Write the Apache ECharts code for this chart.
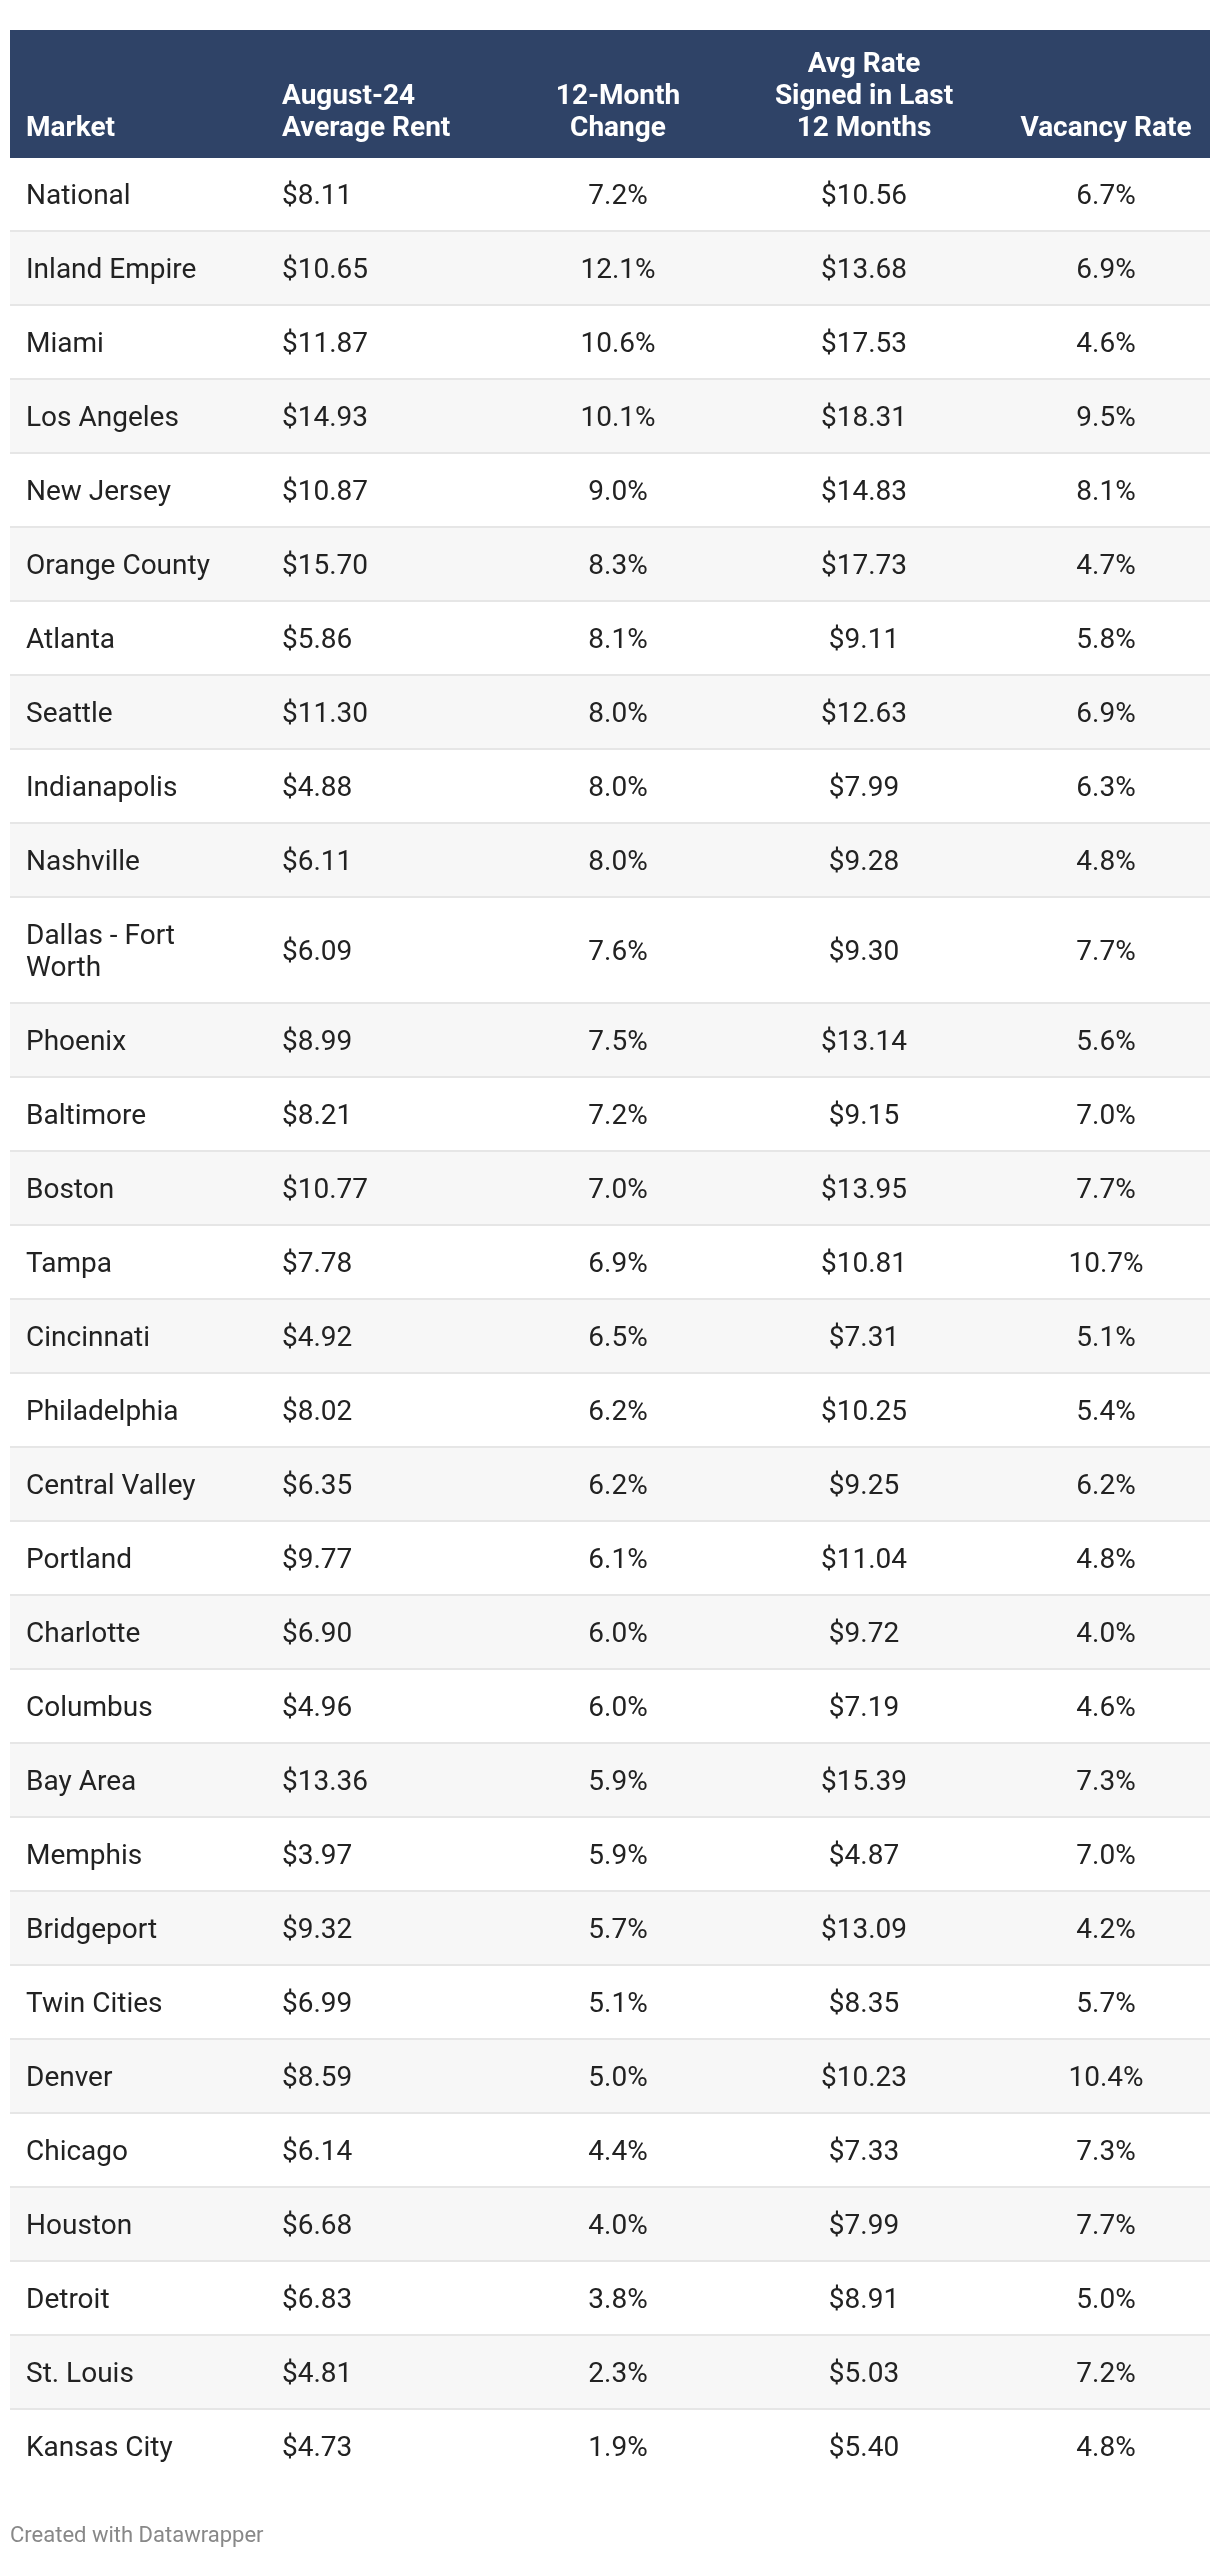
<!DOCTYPE html>
<html>
<head>
<meta charset="utf-8">
<script src="https://cdn.jsdelivr.net/npm/echarts@6/dist/echarts.min.js"></script>
<style>
  html, body { margin: 0; padding: 0; background: #ffffff; }
  #chart { width: 1220px; height: 2558px; }
</style>
</head>
<body>
<div id="chart"></div>
<script>
// ---- Data ----
const markets = ['National', 'Inland Empire', 'Miami', 'Los Angeles', 'New Jersey', 'Orange County',
  'Atlanta', 'Seattle', 'Indianapolis', 'Nashville', 'Dallas - Fort Worth', 'Phoenix', 'Baltimore',
  'Boston', 'Tampa', 'Cincinnati', 'Philadelphia', 'Central Valley', 'Portland', 'Charlotte',
  'Columbus', 'Bay Area', 'Memphis', 'Bridgeport', 'Twin Cities', 'Denver', 'Chicago', 'Houston',
  'Detroit', 'St. Louis', 'Kansas City'];
const avgRent = [8.11, 10.65, 11.87, 14.93, 10.87, 15.70, 5.86, 11.30, 4.88, 6.11, 6.09, 8.99, 8.21,
  10.77, 7.78, 4.92, 8.02, 6.35, 9.77, 6.90, 4.96, 13.36, 3.97, 9.32, 6.99, 8.59, 6.14, 6.68,
  6.83, 4.81, 4.73];
const change12 = [7.2, 12.1, 10.6, 10.1, 9.0, 8.3, 8.1, 8.0, 8.0, 8.0, 7.6, 7.5, 7.2, 7.0, 6.9, 6.5,
  6.2, 6.2, 6.1, 6.0, 6.0, 5.9, 5.9, 5.7, 5.1, 5.0, 4.4, 4.0, 3.8, 2.3, 1.9];
const signedRate = [10.56, 13.68, 17.53, 18.31, 14.83, 17.73, 9.11, 12.63, 7.99, 9.28, 9.30, 13.14,
  9.15, 13.95, 10.81, 7.31, 10.25, 9.25, 11.04, 9.72, 7.19, 15.39, 4.87, 13.09, 8.35, 10.23, 7.33,
  7.99, 8.91, 5.03, 5.40];
const vacancy = [6.7, 6.9, 4.6, 9.5, 8.1, 4.7, 5.8, 6.9, 6.3, 4.8, 7.7, 5.6, 7.0, 7.7, 10.7, 5.1, 5.4,
  6.2, 4.8, 4.0, 4.6, 7.3, 7.0, 4.2, 5.7, 10.4, 7.3, 7.7, 5.0, 7.2, 4.8];
const headerLabels = ['Market', 'August-24\nAverage Rent', '12-Month\nChange',
  'Avg Rate\nSigned in Last\n12 Months', 'Vacancy Rate'];
const footerText = 'Created with Datawrapper';

// ---- Layout ----
const TABLE_W = 1200;
const HEADER_H = 128;
const ROW_H = 74;
const LINE_H = 32;
const PAD = 16;
const FONT = 'Roboto, "Noto Sans", sans-serif';
const columns = [
  { l: 0, r: 256, align: 'left' },
  { l: 256, r: 500, align: 'left' },
  { l: 500, r: 716, align: 'center' },
  { l: 716, r: 992, align: 'center' },
  { l: 992, r: 1200, align: 'center' }
];
const marketTextW = columns[0].r - columns[0].l - 2 * PAD;

const cvs = document.createElement('canvas').getContext('2d');
cvs.font = '28px Roboto';
function countLines(txt) {
  const words = txt.split(' ');
  let lines = 1, cur = '';
  words.forEach(w => {
    const t = cur ? cur + ' ' + w : w;
    if (cvs.measureText(t).width > marketTextW && cur) { lines++; cur = w; } else { cur = t; }
  });
  return lines;
}
const rowHeights = markets.map(m => ROW_H + (countLines(m) - 1) * LINE_H);
const rowTops = [];
let acc = HEADER_H;
rowHeights.forEach(h => { rowTops.push(acc); acc += h; });
const TOTAL_H = acc;

const fmtMoney = v => '$' + v.toFixed(2);
const fmtPct = v => v.toFixed(1) + '%';

const rows = markets.map((m, i) => [TABLE_W / 2, rowTops[i] + rowHeights[i] / 2, i]);

const chart = echarts.init(document.getElementById('chart'), null, { renderer: 'canvas' });

function cellX(api, c) {
  const col = columns[c];
  if (col.align === 'left') return api.coord([col.l + PAD, 0])[0];
  return api.coord([(col.l + col.r) / 2, 0])[0];
}

chart.setOption({
  animation: false,
  backgroundColor: '#ffffff',
  grid: { left: 10, top: 30, width: TABLE_W, height: TOTAL_H },
  xAxis: { type: 'value', min: 0, max: TABLE_W, show: false },
  yAxis: { type: 'value', min: 0, max: TOTAL_H, inverse: true, show: false },
  graphic: [{
    type: 'text', left: 10, top: 2525,
    style: { text: footerText, fill: '#888888', font: '22px ' + FONT }
  }],
  series: [
    {
      type: 'custom', silent: true,
      data: [[TABLE_W / 2, HEADER_H / 2]],
      renderItem: function (params, api) {
        const p0 = api.coord([0, 0]);
        const p1 = api.coord([TABLE_W, HEADER_H]);
        const children = [{
          type: 'rect',
          shape: { x: p0[0], y: p0[1], width: p1[0] - p0[0], height: p1[1] - p0[1] },
          style: { fill: '#2f4367' }
        }];
        headerLabels.forEach((lab, c) => {
          children.push({
            type: 'text',
            style: {
              text: lab, x: cellX(api, c), y: p1[1] - 13.5,
              fill: '#ffffff', fontSize: 28, fontWeight: 'bold', fontFamily: FONT,
              align: columns[c].align, verticalAlign: 'bottom', lineHeight: LINE_H
            }
          });
        });
        return { type: 'group', children: children };
      }
    },
    {
      type: 'custom', silent: true,
      data: rows,
      renderItem: function (params, api) {
        const i = api.value(2);
        const y0 = rowTops[i], y1 = rowTops[i] + rowHeights[i];
        const p0 = api.coord([0, y0]);
        const p1 = api.coord([TABLE_W, y1]);
        const cy = (p0[1] + p1[1]) / 2;
        const children = [];
        if (i % 2 === 1) {
          children.push({
            type: 'rect',
            shape: { x: p0[0], y: p0[1], width: p1[0] - p0[0], height: p1[1] - p0[1] },
            style: { fill: '#f7f7f7' }
          });
        }
        if (i < markets.length - 1) {
          children.push({
            type: 'rect',
            shape: { x: p0[0], y: p1[1] - 2, width: p1[0] - p0[0], height: 2 },
            style: { fill: '#e6e6e6' }
          });
        }
        const vals = [markets[i], fmtMoney(avgRent[i]), fmtPct(change12[i]),
          fmtMoney(signedRate[i]), fmtPct(vacancy[i])];
        vals.forEach((t, c) => {
          const st = {
            text: t, x: cellX(api, c), y: cy + 2,
            fill: '#222222', fontSize: 28, fontFamily: FONT,
            align: columns[c].align, verticalAlign: 'middle', lineHeight: LINE_H
          };
          if (c === 0) { st.width = marketTextW; st.overflow = 'break'; }
          children.push({ type: 'text', style: st });
        });
        return { type: 'group', children: children };
      }
    }
  ]
});
</script>
</body>
</html>
